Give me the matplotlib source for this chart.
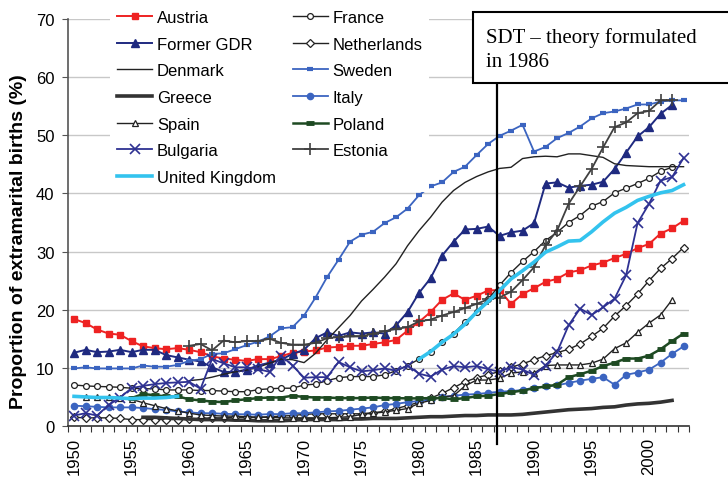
import numpy as np
import matplotlib.pyplot as plt
from matplotlib.patches import Rectangle

plt.rcParams['font.family'] = ['Liberation Sans', 'DejaVu Sans']

# extramarital births, % of all births
austria_start = 1950
austria = [18.4, 17.7, 16.6, 15.9, 15.7, 14.6, 13.7, 13.4, 13.2, 13.4,
           13.1, 12.7, 12.0, 11.6, 11.4, 11.2, 11.5, 11.5, 12.0, 12.6,
           12.8, 13.0, 13.5, 13.6, 13.8, 13.8, 14.1, 14.4, 14.8, 16.4,
           17.9, 19.6, 21.7, 22.8, 21.7, 22.4, 23.3, 23.4, 21.0, 22.7,
           23.7, 24.8, 25.3, 26.4, 26.8, 27.6, 28.1, 28.9, 29.6, 30.6,
           31.3, 33.1, 34.0, 35.3]

france_start = 1950
france = [7.05, 6.9, 6.8, 6.75, 6.65, 6.5, 6.4, 6.4, 6.2, 6.2,
          6.2, 6.1, 6.1, 6.0, 5.9, 5.9, 6.25, 6.4, 6.5, 6.5,
          7.05, 7.2, 7.8, 8.3, 8.5, 8.5, 8.5, 8.8, 9.5, 10.4,
          11.5, 12.8, 14.4, 15.9, 17.9, 19.6, 21.8, 24.2, 26.4, 28.3,
          30.0, 31.9, 33.3, 35.0, 36.2, 37.8, 38.6, 40.1, 40.9, 41.7,
          42.6, 43.8, 44.5]

gdr_start = 1950
gdr = [12.6, 13.1, 12.7, 12.8, 13.1, 12.7, 13.1, 13.1, 12.2, 11.8,
       11.4, 11.1, 10.1, 9.3, 9.3, 9.7, 10.4, 10.9, 11.4, 12.4,
       13.1, 15.1, 16.1, 15.5, 16.1, 15.9, 16.1, 15.9, 17.3, 19.6,
       22.9, 25.4, 29.3, 31.7, 33.8, 33.9, 34.3, 32.7, 33.3, 33.6,
       34.9, 41.7, 41.9, 41.0, 41.3, 41.5, 42.0, 44.2, 47.0, 49.8,
       51.4, 53.7, 55.2]

netherlands_start = 1950
netherlands = [1.5, 1.4, 1.4, 1.4, 1.3, 1.1, 1.1, 1.1, 1.1, 1.1,
               1.2, 1.3, 1.4, 1.4, 1.5, 1.5, 1.5, 1.6, 1.7, 1.8,
               2.0, 2.1, 2.1, 2.1, 2.1, 2.1, 2.3, 2.5, 3.0, 3.5,
               4.1, 4.8, 5.6, 6.6, 7.6, 8.3, 8.8, 9.4, 10.1, 10.7,
               11.4, 12.1, 12.6, 13.2, 14.1, 15.4, 16.8, 18.9, 20.7, 22.7,
               25.0, 27.1, 28.8, 30.7]

denmark_start = 1960
denmark = [7.8, 8.0, 8.4, 8.9, 9.3, 9.6, 10.1, 10.8, 11.5, 11.4,
           10.9, 12.5, 14.8, 16.9, 19.0, 21.5, 23.5, 25.6, 27.9, 31.0,
           33.6, 35.9, 38.5, 40.5, 41.9, 42.9, 43.7, 44.3, 44.5, 46.0,
           46.3, 46.4, 46.3, 46.8, 46.8, 46.5, 46.2, 45.1, 44.8, 44.7,
           44.6, 44.6, 44.6, 44.6]

sweden_start = 1950
sweden = [9.9, 10.1, 9.9, 9.9, 9.9, 9.9, 10.4, 10.2, 10.2, 10.5,
          11.2, 11.5, 12.4, 12.5, 13.2, 13.9, 14.5, 15.4, 16.8, 17.0,
          19.0, 22.1, 25.6, 28.6, 31.7, 32.9, 33.4, 34.9, 35.9, 37.4,
          39.7, 41.2, 41.9, 43.7, 44.6, 46.6, 48.5, 49.9, 50.8, 51.8,
          47.2, 48.0, 49.5, 50.4, 51.5, 52.9, 53.8, 54.1, 54.6, 55.3,
          55.3, 55.8, 56.0, 56.0]

greece_start = 1956
greece = [1.5, 1.5, 1.4, 1.3,
          1.2, 1.1, 1.1, 1.1, 1.0, 1.0, 0.9, 0.9, 0.9, 1.0,
          1.1, 1.1, 1.1, 1.1, 1.2, 1.2, 1.3, 1.3, 1.3, 1.4,
          1.5, 1.6, 1.6, 1.7, 1.8, 1.8, 1.9, 1.9, 1.9, 2.0,
          2.2, 2.4, 2.6, 2.8, 2.9, 3.0, 3.2, 3.3, 3.6, 3.8,
          3.9, 4.1, 4.4]

italy_start = 1950
italy = [3.5, 3.4, 3.3, 3.2, 3.2, 3.2, 3.1, 2.9, 2.75, 2.5,
         2.35, 2.2, 2.2, 2.1, 2.05, 2.0, 1.95, 2.05, 2.05, 2.2,
         2.2, 2.35, 2.5, 2.6, 2.8, 3.0, 3.2, 3.6, 3.8, 4.1,
         4.3, 4.5, 5.0, 5.2, 5.4, 5.5, 5.7, 5.9, 6.0, 6.2,
         6.6, 6.8, 7.0, 7.4, 7.8, 8.1, 8.4, 7.1, 8.8, 9.2,
         9.7, 10.9, 12.4, 13.7]

spain_start = 1951
spain = [5.0, 5.0, 5.0, 4.9, 4.6, 4.0, 3.5, 3.0, 2.6,
         2.2, 1.9, 1.8, 1.7, 1.7, 1.6, 1.5, 1.5, 1.4, 1.4,
         1.4, 1.4, 1.4, 1.5, 1.6, 2.0, 2.2, 2.4, 2.7, 3.0,
         3.9, 4.4, 5.0, 5.2, 6.9, 7.9, 7.9, 8.2, 9.1, 9.3,
         9.1, 10.4, 10.5, 10.5, 10.5, 10.8, 11.5, 13.3, 14.3, 16.1,
         17.7, 19.1, 21.7]

poland_start = 1955
poland = [4.8, 5.5, 5.3, 5.1, 5.1,
          4.6, 4.4, 4.2, 4.1, 4.4, 4.6, 4.8, 4.9, 4.9, 5.2,
          5.0, 4.9, 4.9, 4.8, 4.8, 4.8, 4.9, 4.8, 4.8, 4.75,
          4.75, 4.8, 4.8, 4.6, 4.8, 5.1, 5.2, 5.5, 5.8, 6.1,
          6.5, 6.8, 7.1, 8.4, 8.9, 9.5, 10.3, 10.9, 11.6, 11.6,
          12.1, 13.2, 14.6, 15.9]

bulgaria_start = 1950
bulgaria = [1.8, 2.2, 1.8, 3.6, 4.9, 6.5, 6.9, 7.2, 7.4, 7.5,
            7.6, 6.4, 11.5, 10.8, 10.1, 10.1, 9.8, 9.3, 12.1, 10.4,
            8.3, 8.4, 8.4, 11.0, 10.1, 9.4, 9.6, 9.9, 9.5, 10.4,
            9.0, 8.5, 9.7, 10.3, 10.1, 10.3, 9.8, 9.3, 10.2, 9.7,
            8.8, 10.4, 12.7, 17.3, 20.2, 19.1, 20.4, 21.9, 25.9, 34.9,
            38.2, 42.2, 42.8, 46.1]

estonia_start = 1960
estonia = [13.8, 14.1, 13.0, 14.7, 14.4, 14.6, 14.6, 15.0, 14.3, 14.0,
           14.0, 14.3, 15.1, 15.3, 15.4, 15.4, 15.9, 16.3, 16.7, 17.0,
           18.0, 18.3, 19.0, 19.6, 20.3, 21.0, 21.8, 22.1, 23.1, 25.1,
           27.3, 31.1, 33.6, 38.2, 41.2, 44.2, 47.9, 51.4, 52.2, 53.8,
           54.2, 56.0, 56.0]

uk_start = 1950
uk = [5.1, 5.0, 4.9, 4.9, 4.8, 4.7, 4.8, 4.8, 4.9, 5.1,
      None, None, None, None, None, None, None, None, None, None,
      None, None, None, None, None, None, None, None, None, None,
      11.5, 12.8, 14.4, 15.8, 17.5, 19.6, 21.4, 23.3, 25.3, 26.7,
      28.2, 29.9, 30.8, 31.8, 31.9, 33.4, 35.1, 36.6, 37.6, 38.8,
      39.5, 40.1, 40.5, 41.5]

label_years = [1950, 1955, 1960, 1965, 1970, 1975, 1980, 1985, 1990, 1995, 2000]
sdt_year = 1986.8


def xy(start, vals):
    v = np.array(vals, dtype=float)
    return np.arange(start, start + len(v)), v


fig = plt.figure(figsize=(7.28, 4.85), dpi=100)
ax = fig.add_axes([68.3 / 728, 1 - 427 / 485, 621 / 728, 407 / 485])

blk = '#222222'
lines = {}
# drawn in the original series order
lines['Austria'] = ax.plot(*xy(austria_start, austria), color='#ee2222', lw=1.4,
                           marker='s', ms=4.2, mec='#ee2222')[0]
lines['France'] = ax.plot(*xy(france_start, france), color=blk, lw=1.0,
                          marker='o', ms=4.2, mfc='white', mec=blk, mew=0.9)[0]
lines['Former GDR'] = ax.plot(*xy(gdr_start, gdr), color='#1f2a80', lw=1.4,
                              marker='^', ms=5.5, mec='#1f2a80')[0]
lines['Netherlands'] = ax.plot(*xy(netherlands_start, netherlands), color=blk, lw=1.0,
                               marker='D', ms=3.8, mfc='white', mec=blk, mew=0.9)[0]
lines['Denmark'] = ax.plot(*xy(denmark_start, denmark), color=blk, lw=1.0)[0]
lines['Sweden'] = ax.plot(*xy(sweden_start, sweden), color='#3b64c0', lw=1.3,
                          marker='_', ms=5, mew=3)[0]
lines['Greece'] = ax.plot(*xy(greece_start, greece), color='#333333', lw=2.6)[0]
lines['Italy'] = ax.plot(*xy(italy_start, italy), color='#3b64c0', lw=1.3,
                         marker='o', ms=4.5)[0]
lines['Spain'] = ax.plot(*xy(spain_start, spain), color=blk, lw=1.0,
                         marker='^', ms=5, mfc='white', mec=blk, mew=0.9)[0]
lines['Poland'] = ax.plot(*xy(poland_start, poland), color='#1e4a22', lw=1.8,
                          marker='_', ms=6, mew=3.5)[0]
lines['Bulgaria'] = ax.plot(*xy(bulgaria_start, bulgaria), color='#2e3192', lw=1.3,
                            marker='x', ms=7, mew=1.2)[0]
lines['Estonia'] = ax.plot(*xy(estonia_start, estonia), color='#404040', lw=1.3,
                           marker='+', ms=8.5, mew=1.2)[0]
lines['United Kingdom'] = ax.plot(*xy(uk_start, uk), color='#33c3ee', lw=2.6)[0]

ax.set_xlim(1949.5, 2003.5)
ax.set_ylim(0, 70)
ax.set_yticks(range(0, 71, 10))
ax.yaxis.grid(True, color='#c8c8c8', lw=1)
ax.set_axisbelow(True)

ax.set_xticks(np.arange(1949.5, 2004, 1))
ax.set_xticklabels([])
ax.set_xticks(label_years, minor=True)
ax.set_xticklabels([str(y) for y in label_years], minor=True, rotation=90, fontsize=12)
ax.tick_params(axis='x', which='major', length=4, color='#333333', direction='out')
ax.tick_params(axis='x', which='minor', length=0, pad=8)
ax.tick_params(axis='y', length=4, color='#555555', labelsize=12, pad=6)

for s in ['top', 'right']:
    ax.spines[s].set_visible(False)
ax.spines['left'].set_color('#555555')
ax.spines['bottom'].set_color('#333333')
ax.spines['left'].set_linewidth(1.2)
ax.spines['bottom'].set_linewidth(1.2)

ax.set_ylabel('Proportion of extramarital births (%)', fontsize=14, fontweight='bold')
ax.yaxis.set_label_coords(-0.066, 0.456)

# SDT marker line and box
ax.axvline(sdt_year, ymin=-0.045, ymax=0.843, color='black', lw=1.6, clip_on=False, zorder=5)
fig.patches.append(Rectangle((473 / 728, 1 - 84 / 485), 0.5, 71 / 485,
                             transform=fig.transFigure, facecolor='white',
                             edgecolor='black', lw=1.5, zorder=6))
fig.text(486 / 728, 1 - 43 / 485, 'SDT \u2013 theory formulated', family='Liberation Serif',
         fontsize=15, va='baseline', ha='left', zorder=7)
fig.text(486 / 728, 1 - 67 / 485, 'in 1986', family='Liberation Serif',
         fontsize=15, va='baseline', ha='left', zorder=7)

col1 = ['Austria', 'Former GDR', 'Denmark', 'Greece', 'Spain', 'Bulgaria', 'United Kingdom']
col2 = ['France', 'Netherlands', 'Sweden', 'Italy', 'Poland', 'Estonia']
order = col1 + col2
leg = ax.legend([lines[k] for k in order], order, ncol=2, loc='upper left',
                bbox_to_anchor=(102 / 728, 1 + 4 / 485), bbox_transform=fig.transFigure,
                fontsize=12, frameon=True, facecolor='white', edgecolor='none',
                framealpha=1, fancybox=False, handlelength=2.1, handletextpad=0.3,
                columnspacing=1.0, labelspacing=0.7, borderpad=0.4)
leg.set_zorder(4)

fig.savefig('out.png', dpi=100)
